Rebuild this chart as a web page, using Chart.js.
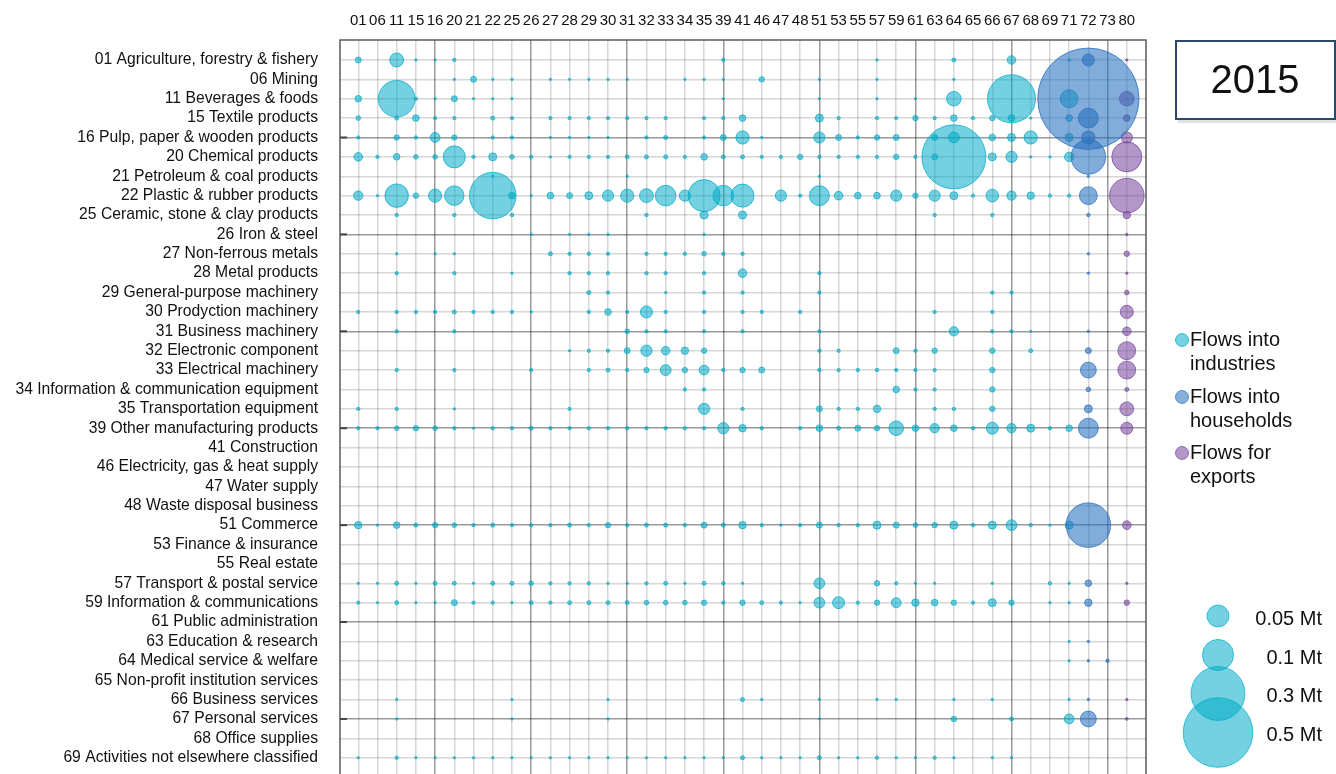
<!DOCTYPE html>
<html>
<head>
<meta charset="utf-8">
<script src="https://cdn.jsdelivr.net/npm/chart.js@4.4.1/dist/chart.umd.min.js"></script>
<style>
html,body{margin:0;padding:0;background:#fff;overflow:hidden}
#wrap{width:1336px;height:774px;position:relative}
</style>
</head>
<body>
<div id="wrap"><canvas id="flows" width="1336" height="774"></canvas></div>
<script>

// column codes (destination sectors) and row labels (source sectors)
const columns = ["01","06","11","15","16","20","21","22","25","26","27","28","29","30","31","32","33","34","35","39","41","46","47","48","51","53","55","57","59","61","63","64","65","66","67","68","69","71","72","73","80"]

const rows = [
"01 Agriculture, forestry & fishery","06 Mining","11 Beverages & foods","15 Textile products",
"16 Pulp, paper & wooden products","20 Chemical products","21 Petroleum & coal products",
"22 Plastic & rubber products","25 Ceramic, stone & clay products","26 Iron & steel",
"27 Non-ferrous metals","28 Metal products","29 General-purpose machinery","30 Prodyction machinery",
"31 Business machinery","32 Electronic component","33 Electrical machinery",
"34 Information & communication equipment","35 Transportation equipment","39 Other manufacturing products",
"41 Construction","46 Electricity, gas & heat supply","47 Water supply","48 Waste disposal business",
"51 Commerce","53 Finance & insurance","55 Real estate","57 Transport & postal service",
"59 Information & communications","61 Public administration","63 Education & research",
"64 Medical service & welfare","65 Non-profit institution services","66 Business services",
"67 Personal services","68 Office supplies","69 Activities not elsewhere classified"
]

// flows into industries, kt, columns 01 .. 71 (empty row = no flows)
const industries = [
[3.7,0,20,0.6,0.6, 1.2,0,0,0,0, 0,0,0,0,0, 0,0,0,0,1.2, 0,0,0,0,0, 0,0,0.6,0,0, 0,1.7,0,0,7.6, 0,0,0.6],
[0,0,0,0,0, 0.6,3.7,0.6,0.6,0, 0.6,0.6,0.6,0.6,0.6, 0,0,0.6,0.6,0.6, 0,3,0,0,0.6, 0,0,0.6,0,0, 0,0.6,0,0,0, 0,0,0],
[4.5,0,138,1.2,0.6, 3.7,0.6,0.6,0.6,0, 0,0,0,0,0, 0,0,0,0,0.6, 0,0,0,0,0.6, 0,0,0.6,0,0.6, 0,22,0,0,238, 0,0,33],
[2.2,0,1.7,4.5,1.2, 1.2,0,1.7,1.2,0, 1.2,1.2,1.2,1.2,1.2, 1.2,1.2,0,1.2,1.2, 4.5,0,0,0,6.6, 1.2,0,1.2,1.2,3, 1.2,4.5,1.2,3,4.5, 0.6,0,4.5],
[1.2,0,3,1.2,10, 3,0,1.2,1.2,0, 0.6,0.6,0.6,0.6,0, 1.2,1.7,0,1.2,3.7, 18,0.6,0,0,13, 3.7,1.2,3,3.7,0, 3.7,12,0,4.5,6.6, 18,0,6.6],
[7.6,1.2,4.5,2.2,2.2, 50,1.2,6.6,2.2,1.2, 0.6,1.2,1.2,1.2,1.7, 1.7,1.7,1.2,4.5,1.7, 1.7,1.2,1.2,3,1.2, 1.2,1.2,1.2,3,1.2, 3.7,423,0,6.6,13, 0.6,0.6,9],
[0,0,0,0,0, 0,0,0.6,0,0, 0,0,0,0,0.6, 0,0,0,0,0, 0,0,0,0,0.6, 0,0,0,0,0, 0,0,0,0,0, 0,0,0],
[9,0.6,57,3,18, 39,0,224,4.5,0.6, 4.5,3.7,6.6,13,18, 20,44,13,106,44, 55,0,13,1.2,41, 7.6,4.5,4.5,13,3, 13,6.6,1.2,16.5,9, 5.7,1.2,1.2],
[0,0,1.2,0,0, 1.2,0,0,1.2,0, 0,0,0,0,0, 1.2,0,0,6.6,0, 6.6,0,0,0,0, 0,0,0,0,0, 1.2,0,0,1.2,0, 0,0,0],
[0,0,0,0,0, 0,0,0,0,0.6, 0,0.6,0.6,0.6,0, 0,0,0,0.6,0, 0,0,0,0,0, 0,0,0,0,0, 0,0,0,0,0, 0,0,0],
[0,0,0.6,0,0.6, 0.6,0,0,0,0, 1.7,1.2,1.2,1.2,0, 1.2,1.2,1.2,2.2,1.2, 1.2,0,0,0,0, 0,0,0,0,0, 0,0,0,0,0, 0,0,0],
[0,0,1.2,0,0, 1.2,0,0,0.6,0, 0,1.2,1.2,1.2,0, 1.2,1.2,0,1.2,0, 7.6,0,0,0,1.2, 0,0,0,0,0, 0,0,0,0,0, 0,0,0],
[0,0,0,0,0, 0,0,0,0,0, 0,0,1.7,1.2,0, 0,0.6,0,1.2,0, 1.2,0,0,0,1.2, 0,0,0,0,0, 0,0,0,1.2,1.2, 0,0,0],
[1.2,0,1.2,1.2,1.2, 1.7,1.2,1.2,1.2,0.6, 0,0,1.2,4.5,1.2, 15,1.2,0,1.2,0, 1.2,1.2,0,1.2,0, 0,0,0,0,0, 1.2,0,0,1.2,0, 0,0,0],
[0,0,1.2,0,0, 1.2,0,0,0,0, 0,0,0,0,2.2, 1.2,1.2,0,1.2,0, 1.2,0,0,0,1.2, 0,0,0,0,0, 0,9,0,1.2,1.2, 0.6,0,0],
[0,0,0,0,0, 0,0,0,0,0, 0,0.6,1.2,1.2,3.7, 13,7.6,5.7,3,0, 0,0,0,0,1.2, 1.2,0,0,3.7,1.2, 3,0,0,3,0, 1.7,0,0],
[0,0,1.2,0,0, 1.2,0,0,0,1.2, 0,0,1.2,1.7,1.2, 3,12,3,10,1.2, 3,3.7,0,0,1.2, 1.2,1.2,1.2,1.2,1.2, 1.2,0,0,3,0, 0,0,0],
[0,0,0,0,0, 0,0,0,0,0, 0,0,0,0,0, 0,0,1.2,1.2,0, 0,0,0,0,0, 0,0,0,4.5,1.2, 1.2,0,0,3,0, 0,0,0],
[1.2,0,1.2,0,0, 0.6,0,0,0,0, 0,1.2,0,0,0, 0,0,0,13,0, 1.2,0,0,0,3.7, 1.2,1.2,5.7,0,0, 1.2,1.2,0,3,0, 0,0,0],
[1.2,1.2,2.2,3,2.2, 1.2,0.6,1.2,1.2,1.7, 1.2,1.2,1.2,1.2,1.2, 1.2,1.2,1.2,1.2,13, 5.7,1.2,0,1.2,4.5, 1.7,3.7,3,22,4.5, 9,4.5,1.2,15,9, 6.6,1.2,4.5],
[],
[],
[],
[],
[5.7,0.6,4.5,1.7,3, 2.2,1.2,1.7,1.2,1.2, 1.2,1.7,1.2,3,1.2, 1.7,1.7,1.2,3.7,1.7, 5.7,1.2,0.6,1.2,3.7, 1.2,1.2,6.6,3.7,2.2, 3,6.6,1.2,6.6,12, 1.2,0.6,6.6],
[],
[],
[0.6,0.6,1.7,0.6,1.7, 1.7,0.6,1.7,1.7,2.2, 1.2,1.2,1.2,0.6,0.6, 1.2,1.7,0.6,1.7,1.2, 0.6,0,0,0,12, 0,0,3,1.2,0.6, 0.6,0,0,0.6,0, 0,1.2,0.6],
[1.2,0.6,1.7,0.6,0.6, 3.7,1.2,1.2,0.6,1.7, 1.2,1.7,1.7,1.7,1.7, 2.2,2.2,2.2,3,1.2, 3,1.7,1.2,0.6,12, 15,1.2,3,10,5.7, 4.5,3,1.2,6.6,3, 0,0.6,0.6],
[],
[0,0,0,0,0, 0,0,0,0,0, 0,0,0,0,0, 0,0,0,0,0, 0,0,0,0,0, 0,0,0,0,0, 0,0,0,0,0, 0,0,0.6],
[0,0,0,0,0, 0,0,0,0,0, 0,0,0,0,0, 0,0,0,0,0, 0,0,0,0,0, 0,0,0,0,0, 0,0,0,0,0, 0,0,0.6],
[],
[0,0,0.6,0,0, 0,0,0,0.6,0, 0,0,0,0.6,0, 0,0,0,0,0, 1.7,0.6,0,0,0.6, 0,0,0.6,0.6,0, 0,0.6,0,0.6,0, 0,0,0.6],
[0,0,0.6,0,0, 0,0,0,0.6,0, 0,0,0,0.6,0, 0,0,0,0,0, 0,0,0,0,0.6, 0,0,0,0,0, 0,3,0,0,1.7, 0,0,10],
[],
[0.6,0,1.2,0.6,0.6, 0.6,0.6,0.6,0.6,0.6, 0.6,0.6,0.6,0.6,0.6, 0.6,0.6,0.6,0.6,0.6, 1.7,0.6,0.6,0.6,1.7, 0.6,0.6,1.2,0.6,0.6, 1.2,0.6,0,0.6,0.6, 0,0,0]
]

// flows into households (columns 72 and 73), kt, one value per row
const households72 = [15,0,1060,41,18, 124,0.6,33,1.2,0, 0.6,0.6,0,0,0.6, 3.7,26,2.2,6.6,41, 0,0,0,0,205, 0,0,4.5,5.7,0, 0.6,0.6,0,0.6,26, 0,0]
const households73 = [0,0,0,0,0, 0,0,0,0,0, 0,0,0,0,0, 0,0,0,0,0, 0,0,0,0,0, 0,0,0,0,0, 0,1.2,0,0,0, 0,0]

// flows for exports (column 80), kt
const exports80 = [0.6,0,22,4.5,13, 93,0,124,5.7,0.6, 3,0.6,2.2,18,7.6, 33,33,1.7,20,15, 0,0,0,0,7.6, 0,0,0.6,3,0, 0,0,0,0.6,0.8, 0,0]

// bubble size legend, kt
const sizeLegend = [50,100,300,500]

const yearLabel = "2015"


// bubble area proportional to flow
function bubbleRadius(kt){
return 1.556*Math.sqrt(kt)
}

function points(list, col){
let out = []
list.forEach((v,r)=>{ if(v>0) out.push({x:col, y:r, v:v}) })
return out
}

let industryPoints = []
industries.forEach((row,r)=>{
row.forEach((v,c)=>{ if(v>0) industryPoints.push({x:c, y:r, v:v}) })
})

const colX72 = columns.indexOf("72")
const colX73 = columns.indexOf("73")
const colX80 = columns.indexOf("80")

const cyan = "0,172,200"
const blue = "40,112,190"
const purple = "115,65,155"

const FONT = "'Liberation Sans', Arial, Helvetica, sans-serif"


// frame, tick marks, year box and the two legends
const extras = {
id:"extras",
afterDatasetsDraw(chart){
const ctx = chart.ctx
const a = chart.chartArea
const ys = chart.scales.y
ctx.save()

ctx.strokeStyle = "#5a5a5a"
ctx.lineWidth = 1.5
ctx.strokeRect(a.left, a.top, a.right-a.left, a.bottom-a.top+2)

// short inward ticks on the left axis every 5 rows
ctx.strokeStyle = "#444"
ctx.lineWidth = 2
rows.forEach((r,i)=>{
if(i%5!==4) return
const py = ys.getPixelForValue(i)
ctx.beginPath()
ctx.moveTo(a.left, py)
ctx.lineTo(a.left+7, py)
ctx.stroke()
})

// year box
ctx.fillStyle = "rgba(0,0,0,0.12)"
ctx.fillRect(1178, 120, 158, 3)
ctx.strokeStyle = "#2c4868"
ctx.lineWidth = 2
ctx.strokeRect(1176, 41, 159, 78)
ctx.fillStyle = "#111"
ctx.font = "40px " + FONT
ctx.textAlign = "center"
ctx.textBaseline = "middle"
ctx.fillText(yearLabel, 1255, 82)

// colour legend
const series = [
{c:cyan, t:["Flows into","industries"], y:340},
{c:blue, t:["Flows into","households"], y:397},
{c:purple, t:["Flows for","exports"], y:453}
]
ctx.font = "20px " + FONT
ctx.textAlign = "left"
series.forEach(s=>{
ctx.beginPath()
ctx.arc(1182, s.y, 6.5, 0, Math.PI*2)
ctx.fillStyle = "rgba("+s.c+",0.55)"
ctx.fill()
ctx.strokeStyle = "rgba("+s.c+",0.7)"
ctx.lineWidth = 1
ctx.stroke()
ctx.fillStyle = "#111"
ctx.fillText(s.t[0], 1190, s.y)
ctx.fillText(s.t[1], 1190, s.y+24)
})

// size legend
const ly = [616, 655, 693.5, 732.5]
sizeLegend.forEach((kt,i)=>{
ctx.beginPath()
ctx.arc(1218, ly[i], bubbleRadius(kt), 0, Math.PI*2)
ctx.fillStyle = "rgba("+cyan+",0.55)"
ctx.fill()
ctx.strokeStyle = "rgba("+cyan+",0.7)"
ctx.lineWidth = 1
ctx.stroke()
})
ctx.fillStyle = "#111"
ctx.textAlign = "right"
sizeLegend.forEach((kt,i)=>{
ctx.fillText((kt/1000) + " Mt", 1322, ly[i]+3)
})

ctx.restore()
}
}

const minorGrid = "rgba(0,0,0,0.16)"
const majorGrid = "rgba(0,0,0,0.4)"

new Chart(document.getElementById("flows"),{
type:"bubble",
data:{
datasets:[
{
label:"Flows into industries",
data:industryPoints,
backgroundColor:"rgba("+cyan+",0.55)",
borderColor:"rgba("+cyan+",0.75)",
borderWidth:1,
order:3
},
{
label:"Flows into households",
data:points(households72,colX72).concat(points(households73,colX73)),
backgroundColor:"rgba("+blue+",0.58)",
borderColor:"rgba("+blue+",0.75)",
borderWidth:1,
order:1
},
{
label:"Flows for exports",
data:points(exports80,colX80),
backgroundColor:"rgba("+purple+",0.55)",
borderColor:"rgba("+purple+",0.7)",
borderWidth:1,
order:2
}
]
},
options:{
responsive:false,
animation:false,
events:[],
layout:{autoPadding:false, padding:{left:0, top:0, right:190, bottom:0}},
elements:{point:{radius:ctx=>bubbleRadius(ctx.raw ? ctx.raw.v : 0)}},
plugins:{legend:{display:false}, tooltip:{enabled:false}},
scales:{
x:{
type:"linear",
position:"top",
min:-0.95,
max:41.0,
afterBuildTicks:s=>{ s.ticks = columns.map((c,i)=>({value:i})) },
afterFit:s=>{ s.height = 40; s.paddingLeft = 0; s.paddingRight = 0 },
ticks:{
autoSkip:false,
maxRotation:0,
padding:10,
color:"#111",
font:{family:FONT, size:15},
callback:v=>columns[v]
},
grid:{
drawTicks:false,
lineWidth:1.5,
color:ctx=>(ctx.tick && ctx.tick.value%5===4) ? majorGrid : minorGrid
},
border:{display:false}
},
y:{
type:"linear",
reverse:true,
min:-1.03,
max:36.84,
afterBuildTicks:s=>{ s.ticks = rows.map((r,i)=>({value:i})) },
afterFit:s=>{ s.width = 340; s.paddingTop = 0; s.paddingBottom = 0 },
ticks:{
autoSkip:false,
padding:22,
color:"#111",
font:{family:FONT, size:15.7},
callback:v=>rows[v]
},
grid:{
drawTicks:false,
lineWidth:1.5,
color:ctx=>(ctx.tick && ctx.tick.value%5===4) ? majorGrid : minorGrid
},
border:{display:false}
}
}
},
plugins:[extras]
})
</script>
</body>
</html>
